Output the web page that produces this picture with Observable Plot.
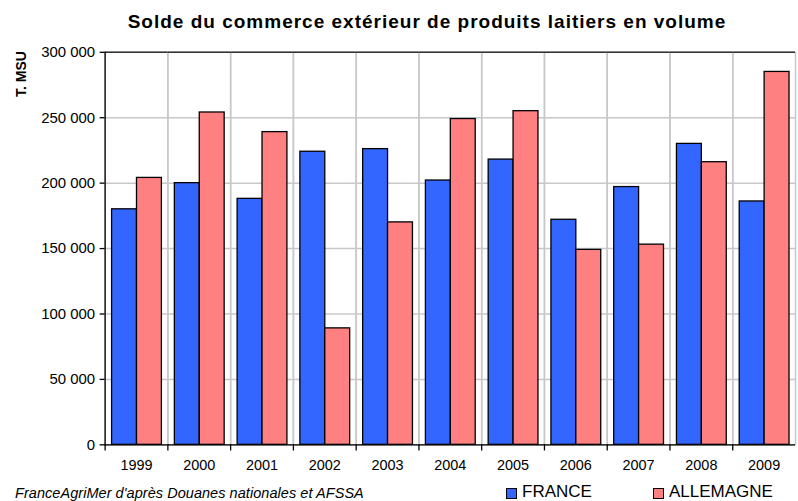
<!DOCTYPE html>
<html>
<head>
<meta charset="utf-8">
<script src="https://cdn.jsdelivr.net/npm/d3@7"></script>
<script src="https://cdn.jsdelivr.net/npm/@observablehq/plot@0.6"></script>
<style>
  body { margin: 0; background: #fff; }
  #wrap { position: relative; width: 798px; height: 501px; overflow: hidden; background: #fff;
          font-family: "Liberation Sans", Arial, sans-serif; color: #000; }
  #chart { position: absolute; left: 0; top: 0; }
  .abs { position: absolute; white-space: nowrap; }
  #title { left: 427px; top: 12px; transform: translateX(-50%); font-size: 19px; line-height: 19px; font-weight: bold; letter-spacing: 1px; }
  #ylabel { left: 13.5px; top: 97px; transform: rotate(-90deg); transform-origin: left top; font-size: 14px; line-height: 14px; font-weight: bold; }
  #caption { left: 15px; top: 486px; font-size: 14.5px; line-height: 14.5px; font-style: italic; letter-spacing: 0.05px; }
  .sw { position: absolute; width: 9px; height: 9px; border: 1px solid #000; }
  .lt { position: absolute; font-size: 17px; line-height: 17px; white-space: nowrap; }
</style>
</head>
<body>
<div id="wrap">
  <div id="chart"></div>
  <div id="title" class="abs">Solde du commerce extérieur de produits laitiers en volume</div>
  <div id="ylabel" class="abs">T. MSU</div>
  <div id="caption" class="abs">FranceAgriMer d'après Douanes nationales et AFSSA</div>
  <div id="legend"></div>
</div>
<script>
const years = [1999, 2000, 2001, 2002, 2003, 2004, 2005, 2006, 2007, 2008, 2009];
const france = [180000, 200000, 188000, 224000, 226000, 202000, 218000, 172000, 197000, 230000, 186000];
const allemagne = [204000, 254000, 239000, 89000, 170000, 249000, 255000, 149000, 153000, 216000, 285000];
const seriesNames = ["FRANCE", "ALLEMAGNE"];
const seriesColors = ["#3366FF", "#FF8080"];
const yTicks = [0, 50000, 100000, 150000, 200000, 250000, 300000];

const data = [];
years.forEach((yr, i) => {
  data.push({year: yr, series: "FRANCE", value: france[i]});
  data.push({year: yr, series: "ALLEMAGNE", value: allemagne[i]});
});

const fmt = d3.formatLocale({decimal: ",", thousands: " ", grouping: [3], currency: ["", " €"]}).format(",d");
const gridColor = "#c8c8c8";

const chart = Plot.plot({
  width: 801,
  height: 501,
  marginTop: 52,
  marginBottom: 55,
  marginLeft: 101,
  marginRight: 0,
  style: {fontFamily: "'Liberation Sans', Arial, sans-serif", fontSize: "14px", color: "#000", background: "transparent"},
  fx: {domain: years, padding: 0},
  x: {domain: seriesNames, paddingInner: 0, paddingOuter: 0.25, axis: null},
  y: {domain: [0, 300000]},
  color: {domain: seriesNames, range: seriesColors},
  marks: [
    Plot.frame({stroke: gridColor, strokeWidth: 1.5}),
    Plot.gridY(yTicks, {stroke: gridColor, strokeOpacity: 1, strokeWidth: 1.5}),
    Plot.barY(data, {fx: "year", x: "series", y: "value", fill: "series", stroke: "#000", strokeWidth: 1.3}),
    Plot.ruleY([300000], {stroke: "#333", strokeWidth: 1.5}),
    Plot.ruleY([0], {stroke: "#000", strokeWidth: 1.3}),
    Plot.frame({anchor: "left", stroke: "#000", strokeWidth: 1.3, insetTop: 394, insetBottom: -5}),
    Plot.frame({anchor: "left", stroke: "#000", strokeWidth: 1.3, facetAnchor: "left"}),
    Plot.axisY(yTicks, {tickFormat: fmt, label: null, tickSize: 5, tickPadding: 5, fontSize: 15, strokeWidth: 1.3}),
    Plot.axisFx({anchor: "bottom", tickFormat: d => String(d), label: null, tickSize: 0, tickPadding: 15, fontSize: 14.5})
  ]
});
document.getElementById("chart").appendChild(chart);

// legend
const legend = document.getElementById("legend");
const legendPos = [{sx: 506, tx: 522}, {sx: 653, tx: 669}];
seriesNames.forEach((name, i) => {
  const sw = document.createElement("div");
  sw.className = "sw";
  sw.style.left = legendPos[i].sx + "px";
  sw.style.top = "488px";
  sw.style.background = seriesColors[i];
  legend.appendChild(sw);
  const t = document.createElement("div");
  t.className = "lt";
  t.style.left = legendPos[i].tx + "px";
  t.style.top = "483px";
  t.textContent = name;
  legend.appendChild(t);
});
</script>
</body>
</html>
